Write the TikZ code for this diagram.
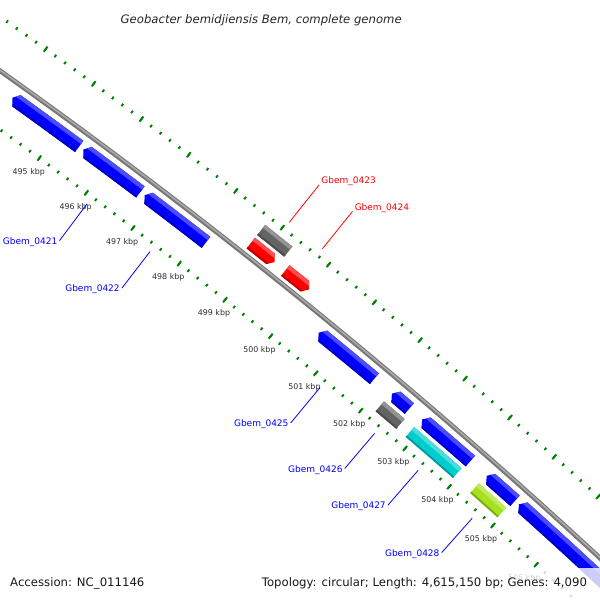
\documentclass[tikz,border=0pt]{standalone}
\usepackage{fontspec}
\setmainfont{DejaVu Sans}[ItalicFont={DejaVu Sans Oblique}]
\usetikzlibrary{calc}
\definecolor{gblue}{RGB}{0,0,255}
\definecolor{gred}{RGB}{255,0,0}
\definecolor{ggray}{RGB}{100,100,100}
\definecolor{gcyan}{RGB}{0,205,205}
\definecolor{ggreen}{RGB}{165,225,30}
\definecolor{tickgreen}{RGB}{0,128,0}
\definecolor{bbgray}{RGB}{120,120,120}
\definecolor{bblight}{RGB}{170,170,170}
\definecolor{ticktext}{RGB}{45,45,45}

% annular sector: angle a1, angle a2, inner r, outer r
\newcommand\annsec[4]{($(C)+(#1:#4)$) arc[start angle=#1,end angle=#2,radius=#4] -- ($(C)+(#2:#3)$) arc[start angle=#2,end angle=#1,radius=#3] -- cycle}
\def\ad{0.05}
% feature: colour, type (R reverse arrow, F forward arrow, N box), a1, a2, r inner, r outer
\newcommand\feat[6]{%
  \pgfmathsetmacro\fa{#3}\pgfmathsetmacro\fb{#4}%
  \pgfmathsetmacro\fr{#5}\pgfmathsetmacro\fR{#6}%
  \pgfmathsetmacro\fm{(\fr+\fR)/2}%
  \pgfmathsetmacro\faa{\fa+\ad}\pgfmathsetmacro\fbb{\fb-\ad}%
  \pgfmathsetmacro\fA{\fa-0.3}\pgfmathsetmacro\fB{\fb+0.3}%
  \pgfmathsetmacro\fLo{\fR-4}\pgfmathsetmacro\fRo{\fR+2}%
  \pgfmathsetmacro\fLi{\fr-2}\pgfmathsetmacro\fRi{\fr+1.8}%
  \begin{scope}
    \ifx#2R
      \clip ($(C)+(\faa:\fR)$) arc[start angle=\faa,end angle=\fb,radius=\fR] -- ($(C)+(\fb:\fr)$) arc[start angle=\fb,end angle=\faa,radius=\fr] -- ($(C)+(\fa:\fm)$) -- cycle;
    \else\ifx#2F
      \clip ($(C)+(\fa:\fR)$) arc[start angle=\fa,end angle=\fbb,radius=\fR] -- ($(C)+(\fb:\fm)$) -- ($(C)+(\fbb:\fr)$) arc[start angle=\fbb,end angle=\fa,radius=\fr] -- cycle;
    \else
      \clip \annsec{\fa}{\fb}{\fr}{\fR};
    \fi\fi
    \fill[#1] \annsec{\fA}{\fB}{\fLi}{\fRo};
    \fill[#1!70!white] \annsec{\fA}{\fB}{\fLo}{\fRo};
    \fill[#1!75!black] \annsec{\fA}{\fB}{\fLi}{\fRi};
  \end{scope}}

\begin{document}
\begin{tikzpicture}[x=1pt,y=-1pt,
  tickmark/.style={draw=tickgreen,line width=1.9pt},
  ticklabel/.style={font=\fontsize{7.9}{9}\selectfont,text=ticktext,inner sep=0pt,anchor=center},
  glabel/.style={font=\fontsize{9}{10}\selectfont,inner sep=0pt},
  lblline/.style={line width=0.8pt},
  bottomtext/.style={font=\fontsize{11.7}{13}\selectfont,text=black!90,inner sep=0pt,anchor=base west}]
\useasboundingbox (0,0) rectangle (600,600);
\fill[white] (0,0) rectangle (600,600);
\begin{scope}
\clip (0,0) rectangle (600,600);
\coordinate (C) at (-3481,4970);

% rulers: minor ticks every 0.2 kbp
\foreach \i in {2455,...,2555}{
  \pgfmathsetmacro\ta{-53.81+0.1122*(\i-2475)}
  \draw[tickmark] ($(C)+(\ta:5960.9)$) -- ($(C)+(\ta:5963.9)$);
  \draw[tickmark] ($(C)+(\ta:6053)$) -- ($(C)+(\ta:6056)$);
}
% major ticks every kbp
\foreach \k in {491,...,511}{
  \pgfmathsetmacro\ta{-53.81+0.561*(\k-495)}
  \draw[tickmark] ($(C)+(\ta:5959.2)$) -- ($(C)+(\ta:5965.6)$);
  \draw[tickmark] ($(C)+(\ta:6051.3)$) -- ($(C)+(\ta:6057.7)$);
}
\foreach \k in {495,...,506}{
  \pgfmathsetmacro\ta{-53.81+0.561*(\k-495)}
  \node[ticklabel] (k\k) at ($(C)+(\ta:5944.5)$) {\k\ kbp};
}

% backbone
\draw[bbgray,line width=4.8pt] ($(C)+(-56:6010)$) arc[start angle=-56,end angle=-45,radius=6010];
\draw[bblight,line width=1.6pt] ($(C)+(-56:6010.5)$) arc[start angle=-56,end angle=-45,radius=6010.5];

% inner slot 1: reverse strand genes
\feat{gblue}{R}{-54.36}{-53.57}{5988.5}{6002.5}
\feat{gblue}{R}{-53.52}{-52.84}{5988.5}{6002.5}
\feat{gblue}{R}{-52.79}{-52.05}{5988.5}{6002.5}
\feat{gblue}{R}{-50.67}{-49.98}{5988.5}{6002.5}
\feat{gblue}{R}{-49.76}{-49.54}{5988.5}{6002.5}
\feat{gblue}{R}{-49.38}{-48.77}{5988.5}{6002.5}
\feat{gblue}{R}{-48.56}{-48.20}{5988.5}{6002.5}
\feat{gblue}{R}{-48.15}{-45.50}{5988.5}{6002.5}
% outer slot 1: forward strand genes
\feat{gred}{F}{-51.71}{-51.42}{6016}{6029.5}
\feat{gred}{F}{-51.29}{-51.00}{6016}{6029.5}
% outer slot 2
\feat{ggray}{N}{-51.71}{-51.38}{6033}{6046}
% inner slot 2
\feat{ggray}{N}{-49.77}{-49.51}{5971.5}{5984.5}
\feat{gcyan}{N}{-49.39}{-48.79}{5971.5}{5984.5}
\feat{ggreen}{N}{-48.57}{-48.22}{5971.5}{5984.5}

% inner labels
\foreach \nm/\ang in {0421/-53.18,0422/-52.42,0425/-50.325,0426/-49.64,0427/-49.09,0428/-48.395}{
  \coordinate (a\nm) at ($(C)+(\ang:5954)$);
  \coordinate (b\nm) at ($(C)+(\ang:5908)$);
  \draw[lblline,gblue] (a\nm) -- (b\nm);
  \node[glabel,text=gblue,anchor=base east] (g\nm) at ($(b\nm)+(-2,3.5)$) {Gbem\_\nm};
}
% outer labels
\foreach \nm/\ang in {0423/-51.545,0424/-51.145}{
  \coordinate (a\nm) at ($(C)+(\ang:6063)$);
  \coordinate (b\nm) at ($(C)+(\ang:6111)$);
  \draw[lblline,gred] (a\nm) -- (b\nm);
  \node[glabel,text=gred,anchor=base west] (g\nm) at ($(b\nm)+(2,-1.2)$) {Gbem\_\nm};
}

% translucent legend box
\fill[white,opacity=0.8] (252,568) rectangle (600,600);
\end{scope}

\node[font=\fontsize{11.66}{13}\selectfont\itshape,text=black!85,inner sep=0pt,anchor=base] (title) at (261.2,23) {Geobacter bemidjiensis Bem, complete genome};
\node[bottomtext] (acc) at (10,586.4) {Accession: NC\_011146};
\node[bottomtext] (topo) at (261.7,586.4) {Topology: circular; Length: 4,615,150 bp; Genes: 4,090};
\end{tikzpicture}
\end{document}
